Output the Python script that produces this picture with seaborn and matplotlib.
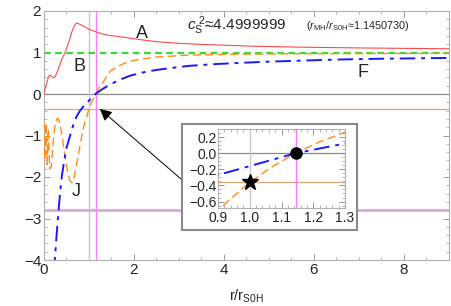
import numpy as np
import pandas as pd
import matplotlib
matplotlib.use('Agg')
import matplotlib.pyplot as plt
import matplotlib.patches as mpatches
from matplotlib.ticker import MultipleLocator
import seaborn as sns

# datos
x_red = [0.0, 0.05, 0.1, 0.13, 0.17, 0.2, 0.25, 0.3, 0.35, 0.4, 0.47, 0.55, 0.62, 0.68, 0.72,
         0.8, 0.9, 1.02, 1.2, 1.4, 1.76, 2.0, 2.5, 3.0, 3.6, 4.72, 5.6, 7.0, 9.0]
y_red = [0.0, 0.22, 0.42, 0.46, 0.42, 0.39, 0.42, 0.55, 0.7, 0.85, 1.0, 1.25, 1.5, 1.66, 1.71,
         1.68, 1.62, 1.55, 1.48, 1.42, 1.37, 1.33, 1.26, 1.22, 1.19, 1.15, 1.13, 1.11, 1.09]

x_orange = [0.0, 0.02, 0.045, 0.07, 0.095, 0.125, 0.16, 0.2, 0.24, 0.28, 0.31,
            0.35, 0.4, 0.46, 0.52, 0.57, 0.62, 0.67, 0.73, 0.8, 0.86, 0.93, 1.0, 1.07, 1.145,
            1.22, 1.3, 1.47, 1.7, 1.91, 2.2, 2.5, 3.24, 4.36, 5.6, 7.0, 9.0]
y_orange = [-0.65, -1.55, -0.7, -1.7, -0.85, -1.8, -1.75, -1.2, -0.8, -0.62, -0.58,
            -0.7, -1.0, -1.45, -1.85, -2.08, -2.14, -2.0, -1.65, -1.25, -0.88, -0.6, -0.36, -0.17, 0.0,
            0.14, 0.26, 0.55, 0.7, 0.79, 0.85, 0.89, 0.94, 0.96, 0.97, 0.975, 0.98]

x_blue = [0.22, 0.24, 0.28, 0.32, 0.36, 0.4, 0.45, 0.5, 0.58, 0.65, 0.72, 0.8, 0.9, 1.0, 1.145,
          1.3, 1.47, 1.7, 1.91, 2.2, 2.5, 3.0, 3.24, 3.8, 4.36, 5.0, 5.6, 6.5, 7.5, 8.3, 9.0]
y_blue = [-4.3, -4.0, -3.4, -2.85, -2.35, -1.95, -1.6, -1.3, -1.0, -0.75, -0.55, -0.4, -0.27, -0.16, 0.0,
          0.12, 0.23, 0.35, 0.44, 0.52, 0.58, 0.65, 0.68, 0.72, 0.75, 0.78, 0.8, 0.83, 0.85, 0.86, 0.87]

y_verde = 1.0
y_tan = -0.36
y_lila = -2.8
x_gris = 1.0
x_rosa = 1.1450730

df_red = pd.DataFrame({'x': x_red, 'y': y_red})
df_orange = pd.DataFrame({'x': x_orange, 'y': y_orange})
df_blue = pd.DataFrame({'x': x_blue, 'y': y_blue})

sns.set_style('ticks')
plt.rcParams['font.family'] = ['Liberation Sans', 'DejaVu Sans']
plt.rcParams['mathtext.fontset'] = 'custom'
plt.rcParams['mathtext.rm'] = 'Liberation Sans'
plt.rcParams['mathtext.it'] = 'Liberation Sans:italic'

fig = plt.figure(figsize=(4.52, 3.06), dpi=100)
ax = fig.add_axes([44/452, 1-260/306, 405/452, 249/306])


def dibujar_fondo(a):
    a.axhline(0, color='#8c8c8c', lw=0.9, zorder=1)
    a.axhline(y_tan, color='#d4a97e', lw=0.9, zorder=1)
    a.axvline(x_gris, color='#c8c8c8', lw=1.0, zorder=1)
    a.axvline(x_rosa, color='#ff7cff', lw=1.0, zorder=1)


def dibujar_curvas(a):
    sns.lineplot(data=df_red, x='x', y='y', ax=a, color='#ff4a4a', lw=0.8, estimator=None, zorder=3)
    sns.lineplot(data=df_orange, x='x', y='y', ax=a, color='#ff8c1a', lw=1.0,
                 linestyle=(0, (6, 3)), estimator=None, zorder=3)
    sns.lineplot(data=df_blue, x='x', y='y', ax=a, color='#1a1aff', lw=1.4,
                 linestyle=(0, (8, 3, 2, 3)), estimator=None, zorder=3)


def estilo_marco(a):
    for s in a.spines.values():
        s.set_color('#b0b0b0')
        s.set_linewidth(0.8)
    a.tick_params(which='both', direction='in', top=True, right=True, color='#9a9a9a')
    a.tick_params(which='major', length=4, width=0.7)
    a.tick_params(which='minor', length=2, width=0.5)
    a.set_xlabel('')
    a.set_ylabel('')


dibujar_fondo(ax)
ax.axhline(y_lila, color='#d9aad9', lw=2.0, zorder=1)
ax.axhline(y_verde, color='#33dd33', lw=1.6, linestyle=(0, (3, 2)), zorder=2)
dibujar_curvas(ax)
ax.set_xlim(0, 9)
ax.set_ylim(-4, 2)
ax.xaxis.set_major_locator(MultipleLocator(2))
ax.xaxis.set_minor_locator(MultipleLocator(0.5))
ax.yaxis.set_major_locator(MultipleLocator(1))
ax.yaxis.set_minor_locator(MultipleLocator(0.2))
estilo_marco(ax)
ax.tick_params(labelsize=11, pad=2)
ax.set_xlabel(r'r/r$_{\rm S0H}$', fontsize=10.5, labelpad=8)

ax.text(2.18, 1.45, 'A', fontsize=13, ha='center', va='center')
ax.text(0.78, 0.66, 'B', fontsize=13, ha='center', va='center')
ax.text(7.08, 0.52, 'F', fontsize=13, ha='center', va='center')
ax.text(0.71, -2.34, 'J', fontsize=13, ha='center', va='center')
ax.text(3.18, 1.64, r'$c_{\rm S}^{\ 2}$≈4.4999999', fontsize=11, ha='left', va='center')
ax.text(5.82, 1.64, r'($r_{\rm MH}/r_{\rm S0H}$≈1.1450730)', fontsize=7.8, ha='left', va='center')

ax.annotate('', xy=(1.24, -0.36), xytext=(3.1, -2.1),
            arrowprops=dict(arrowstyle='-|>', color='#555555', lw=0.7,
                            mutation_scale=18, fc='black', ec='black', shrinkA=0, shrinkB=0),
            zorder=4)

# marco del recuadro
marco = mpatches.Rectangle((182/452, 1-230/306), 175/452, 106/306, transform=fig.transFigure,
                           facecolor='white', edgecolor='#8a8a8a', lw=1.5, zorder=5)
fig.patches.append(marco)

ax2 = fig.add_axes([218/452, 1-208/306, 127/452, 79/306], zorder=6)
dibujar_fondo(ax2)
dibujar_curvas(ax2)
ax2.plot([1.0], [y_tan], marker='*', color='black', ms=12, zorder=5)
ax2.plot([x_rosa], [0.0], marker='o', color='black', ms=8, zorder=5)
ax2.set_xlim(0.9, 1.3)
ax2.set_ylim(-0.68, 0.3)
ax2.xaxis.set_major_locator(MultipleLocator(0.1))
ax2.xaxis.set_minor_locator(MultipleLocator(0.02))
ax2.yaxis.set_major_locator(MultipleLocator(0.2))
ax2.yaxis.set_minor_locator(MultipleLocator(0.05))
estilo_marco(ax2)
ax2.tick_params(labelsize=10, pad=1)
ax2.tick_params(axis='x', pad=2)

fig.savefig('out.png', dpi=100)
